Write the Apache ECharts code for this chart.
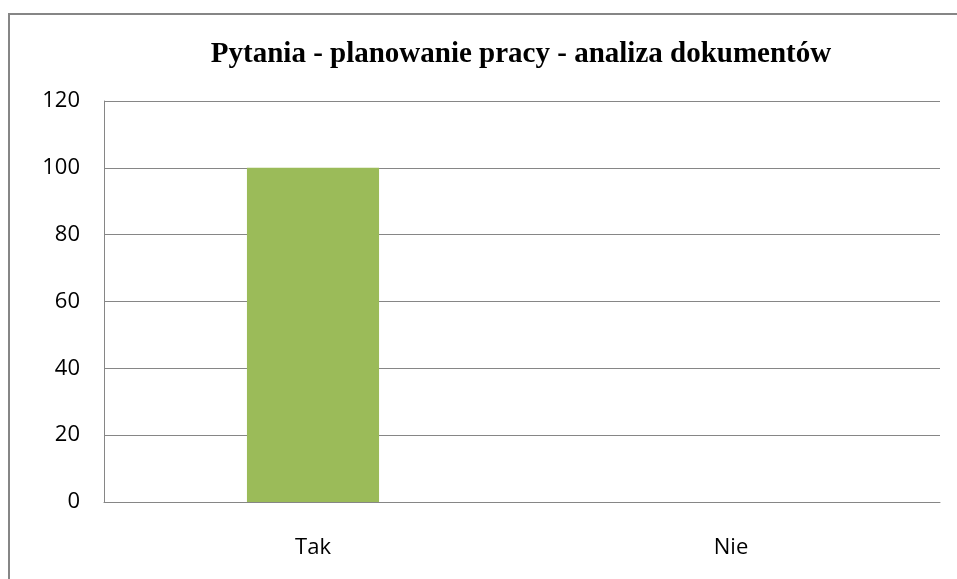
<!DOCTYPE html>
<html>
<head>
<meta charset="utf-8">
<script src="https://cdn.jsdelivr.net/npm/echarts@6/dist/echarts.min.js"></script>
<style>
html,body{margin:0;padding:0;background:#fff;}
#chart{width:957px;height:579px;}
</style>
</head>
<body>
<div id="chart"></div>
<script>
var categories = ['Tak', 'Nie'];
var values = [100, 0];
var yTicks = [0, 20, 40, 60, 80, 100, 120];

var myChart = echarts.init(document.getElementById('chart'));
var option = {
    animation: false,
    title: {
        text: 'Pytania - planowanie pracy - analiza dokumentów',
        left: 516,
        textAlign: 'center',
        top: 35,
        textStyle: {
            fontFamily: 'Liberation Serif',
            fontWeight: 'bold',
            fontSize: 29,
            color: '#000'
        }
    },
    // outer chart frame, runs past the right and bottom edge
    graphic: [{
        type: 'rect',
        shape: { x: 9, y: 14, width: 1000, height: 700 },
        style: { fill: 'none', stroke: '#868686', lineWidth: 2 }
    }],
    grid: {
        left: 104,
        right: 17,
        top: 101,
        bottom: 77
    },
    xAxis: {
        type: 'category',
        data: categories,
        axisLine: { lineStyle: { color: '#868686', width: 1 } },
        axisTick: { show: false },
        axisLabel: {
            margin: 35,
            fontFamily: 'Open Sans',
            fontSize: 22,
            color: '#000'
        }
    },
    yAxis: {
        type: 'value',
        min: yTicks[0],
        max: yTicks[yTicks.length - 1],
        interval: 20,
        axisLine: { show: true, lineStyle: { color: '#868686', width: 1 } },
        axisTick: { show: false },
        splitLine: { lineStyle: { color: '#868686', width: 1 } },
        axisLabel: {
            margin: 24,
            fontFamily: 'Open Sans',
            fontSize: 22,
            color: '#000'
        }
    },
    series: [{
        type: 'bar',
        data: values,
        barWidth: '31.6%',
        itemStyle: { color: '#9BBB59' }
    }]
};
myChart.setOption(option);
</script>
</body>
</html>
